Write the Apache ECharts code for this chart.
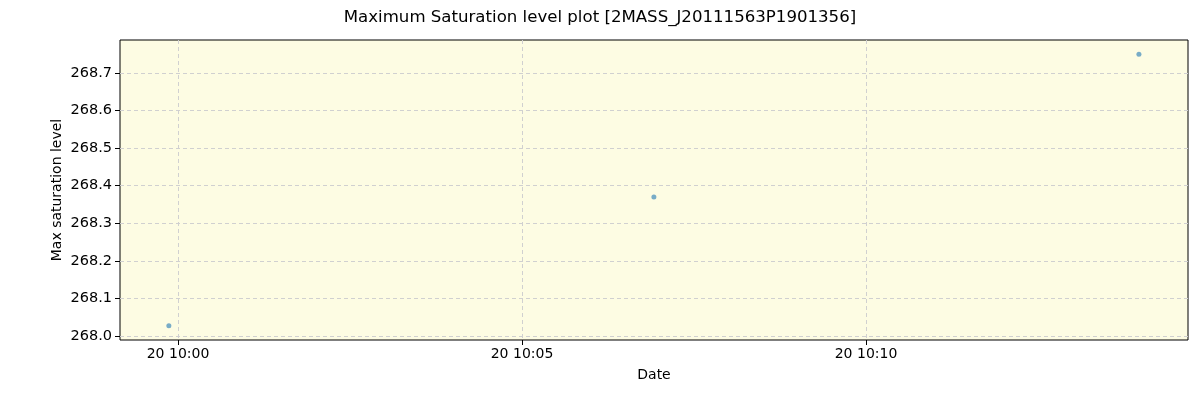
<!DOCTYPE html>
<html><head><meta charset="utf-8">
<script src="https://cdn.jsdelivr.net/npm/echarts@6/dist/echarts.min.js"></script>
<style>html,body{margin:0;padding:0;background:#fff}#c{width:1200px;height:400px}</style>
</head><body><div id="c"></div>
<script>
// Data (times on day 20)
const times = ['09:59:52', '10:06:55', '10:13:58'];
const values = [268.027, 268.37, 268.75];
const xTickLabels = ['10:00', '10:05', '10:10'];
const yTicks = [268.0, 268.1, 268.2, 268.3, 268.4, 268.5, 268.6, 268.7];

function toMin(t) { const p = t.split(':').map(Number); return p[0] * 60 + p[1] + (p[2] || 0) / 60; }
function fmt(m) {
  const h = Math.floor(m / 60 + 1e-9), mm = Math.round(m - h * 60);
  return '20 ' + String(h).padStart(2, '0') + ':' + String(mm).padStart(2, '0');
}
const xTicks = xTickLabels.map(toMin);
const data = times.map((t, i) => [toMin(t), values[i]]);

const font = 'DejaVu Sans';
const chart = echarts.init(document.getElementById('c'), null, { renderer: 'canvas' });
chart.setOption({
  animation: false,
  title: {
    text: 'Maximum Saturation level plot [2MASS_J20111563P1901356]',
    left: 'center', top: 4,
    textStyle: { fontFamily: font, fontSize: 16.6, fontWeight: 'normal', color: '#000' }
  },
  grid: {
    left: 120, right: 12, top: 40, bottom: 60,
    show: true, backgroundColor: '#fdfce3', borderColor: '#000', borderWidth: 1
  },
  xAxis: {
    type: 'value',
    min: toMin('09:59:09') + 0.4 / 60,
    max: toMin('10:14:40') + 0.8 / 60,
    name: 'Date', nameLocation: 'middle', nameGap: 28,
    nameTextStyle: { fontFamily: font, fontSize: 14, color: '#000' },
    axisLine: { show: false },
    axisTick: { show: true, length: 5, customValues: xTicks, lineStyle: { color: '#000' } },
    axisLabel: { customValues: xTicks, formatter: v => fmt(v), fontFamily: font, fontSize: 14, color: '#000', margin: 7 },
    splitLine: { show: true, lineStyle: { color: '#d0d0d0', type: [4, 3], width: 1 } }
  },
  yAxis: {
    type: 'value',
    min: 267.989, max: 268.788,
    name: 'Max saturation level', nameLocation: 'middle', nameGap: 56, nameRotate: 90,
    nameMoveOverlap: false,
    nameTextStyle: { fontFamily: font, fontSize: 14, color: '#000' },
    axisLine: { show: false },
    axisTick: { show: true, length: 5, customValues: yTicks, lineStyle: { color: '#000' } },
    axisLabel: { customValues: yTicks, formatter: v => v.toFixed(1), fontFamily: font, fontSize: 14.5, color: '#000', margin: 8 },
    splitLine: { show: true, lineStyle: { color: '#d0d0d0', type: [4, 3], width: 1 } }
  },
  series: [{
    type: 'scatter',
    data: data,
    symbolSize: 5,
    itemStyle: { color: '#1f77b4', opacity: 0.6 }
  }]
});
</script></body></html>
